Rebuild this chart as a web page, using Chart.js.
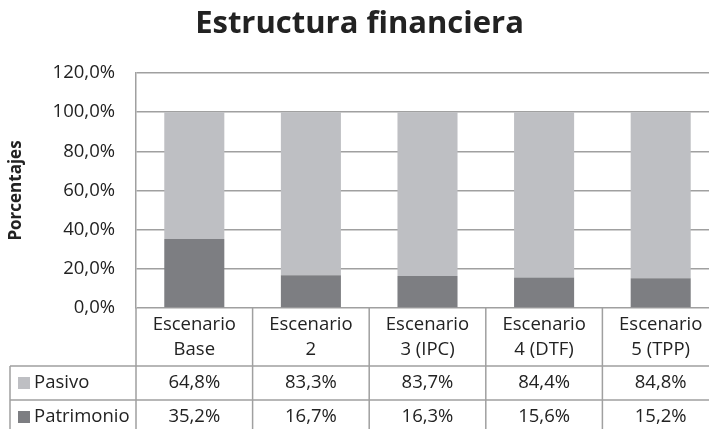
<!DOCTYPE html>
<html>
<head>
<meta charset="utf-8">
<script src="https://cdn.jsdelivr.net/npm/chart.js@4"></script>
<style>
  html, body { margin: 0; padding: 0; background: #fff; overflow: hidden; }
  #wrap { width: 730px; height: 440px; }
</style>
</head>
<body>
<div id="wrap"><canvas id="chart" width="730" height="440"></canvas></div>
<script>
// data
var categories = [['Escenario', 'Base'], ['Escenario', '2'], ['Escenario', '3 (IPC)'], ['Escenario', '4 (DTF)'], ['Escenario', '5 (TPP)']];
var pasivo = [64.8, 83.3, 83.7, 84.4, 84.8];
var patrimonio = [35.2, 16.7, 16.3, 15.6, 15.2];
var yTicks = [0, 20, 40, 60, 80, 100, 120];

var FONT = '"Open Sans", sans-serif';
var TEXT = '#222222';
var GRID = '#a0a0a0';
var LIGHT = '#bebfc3';
var DARK = '#7d7e82';

function pct(v) { return v.toFixed(1).replace('.', ',') + '%'; }

// rows of the data table under the axis, in the order shown
var tableRows = [
  { label: 'Pasivo', color: LIGHT, values: pasivo },
  { label: 'Patrimonio', color: DARK, values: patrimonio }
];

var tablePlugin = {
  id: 'dataTable',
  afterDraw: function (chart) {
    var ctx = chart.ctx;
    var xs = chart.scales.x;
    var area = chart.chartArea;
    var headH = 58, rowH = 34, tableLeft = 10;
    var cell = (area.right - area.left) / categories.length;
    var r1 = area.bottom + headH;
    var bottom = r1 + rowH * tableRows.length;

    ctx.save();
    ctx.strokeStyle = GRID;
    ctx.lineWidth = 1.5;
    ctx.beginPath();
    // left edge of plot continues down through the table
    ctx.moveTo(area.left, area.bottom);
    ctx.lineTo(area.left, bottom);
    ctx.moveTo(tableLeft, r1);
    ctx.lineTo(tableLeft, bottom);
    for (var i = 0; i < categories.length; i++) {
      var bx = xs.getPixelForValue(i) + cell / 2;
      ctx.moveTo(bx, area.bottom);
      ctx.lineTo(bx, bottom);
    }
    for (var r = 0; r <= tableRows.length; r++) {
      var y = r1 + r * rowH;
      ctx.moveTo(tableLeft, y);
      ctx.lineTo(area.right, y);
    }
    ctx.stroke();

    ctx.font = '18.5px ' + FONT;
    ctx.textBaseline = 'middle';
    tableRows.forEach(function (row, ri) {
      var cy = r1 + ri * rowH + rowH / 2;
      ctx.fillStyle = row.color;
      ctx.fillRect(18, cy - 6, 12, 12);
      ctx.fillStyle = TEXT;
      ctx.textAlign = 'left';
      ctx.fillText(row.label, 34, cy);
      ctx.textAlign = 'center';
      row.values.forEach(function (v, ci) {
        ctx.fillText(pct(v), xs.getPixelForValue(ci), cy);
      });
    });
    ctx.restore();
  }
};

new Chart(document.getElementById('chart'), {
  type: 'bar',
  data: {
    labels: categories,
    datasets: [
      { label: 'Patrimonio', data: patrimonio, backgroundColor: DARK },
      { label: 'Pasivo', data: pasivo, backgroundColor: LIGHT }
    ]
  },
  options: {
    responsive: false,
    animation: false,
    layout: { padding: { top: 0, left: 0, right: 11, bottom: 0 } },
    datasets: { bar: { categoryPercentage: 1, barPercentage: 0.515 } },
    plugins: {
      legend: { display: false },
      tooltip: { enabled: false },
      title: {
        display: true,
        text: 'Estructura financiera',
        color: TEXT,
        font: { family: FONT, size: 31, weight: 'bold', lineHeight: 1.2 },
        padding: { top: 6, bottom: 29.8 }
      }
    },
    scales: {
      x: {
        stacked: true,
        grid: { display: false, drawTicks: false },
        border: { display: false },
        ticks: {
          color: TEXT,
          padding: 4.5,
          font: { family: FONT, size: 18.5, lineHeight: '25px' }
        },
        afterFit: function (scale) { scale.height = 132; }
      },
      y: {
        stacked: true,
        min: 0,
        max: 120,
        afterBuildTicks: function (scale) {
          scale.ticks = yTicks.map(function (v) { return { value: v }; });
        },
        grid: { color: GRID, lineWidth: 1.5, drawTicks: false },
        border: { display: true, color: GRID, width: 1.5 },
        ticks: {
          color: TEXT,
          padding: 21,
          font: { family: FONT, size: 18.5 },
          callback: function (v) { return pct(v); }
        },
        title: {
          display: true,
          text: 'Porcentajes',
          color: TEXT,
          font: { family: FONT, size: 17, weight: 'bold', lineHeight: 1.2 },
          padding: { top: 6, bottom: 0 }
        },
        afterFit: function (scale) { scale.width = 136; }
      }
    }
  },
  plugins: [tablePlugin]
});
</script>
</body>
</html>
